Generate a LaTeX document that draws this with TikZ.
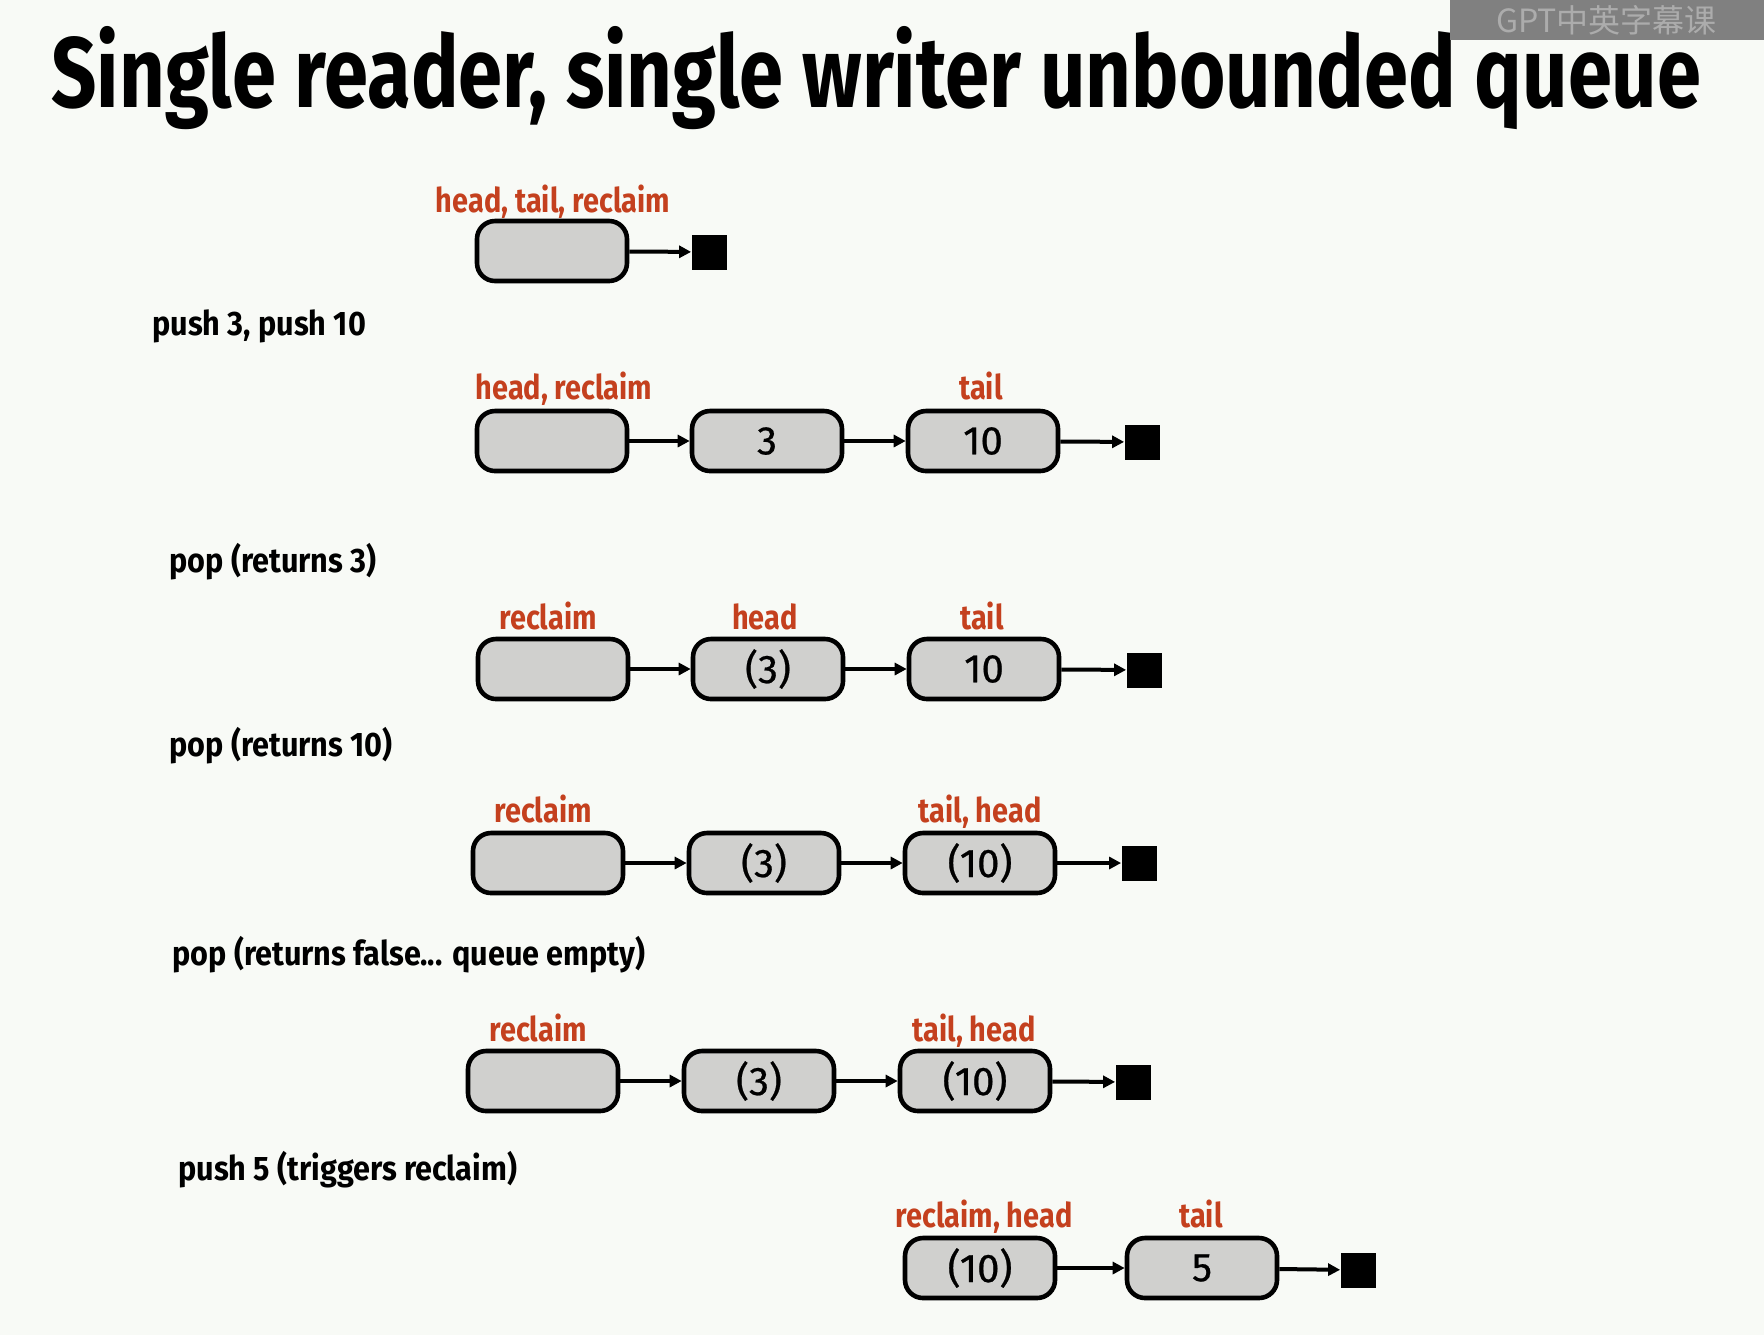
\documentclass[tikz,border=0pt]{standalone}
\usepackage{fontspec}
\usepackage{xcolor}
\usetikzlibrary{arrows.meta}
\setmainfont{Fira Sans}
\newfontfamily\condfont[FakeStretch=0.85]{Fira Sans}
\newfontfamily\opfont[FakeStretch=0.9]{Fira Sans}
\newfontfamily\titlefont[FakeStretch=0.795]{Fira Sans}
\newfontfamily\cellfont[FakeBold=0.6]{Fira Sans}
\newfontfamily\cjkfont{Noto Sans CJK SC}
\definecolor{ptrred}{RGB}{196,64,30}
\definecolor{cellgray}{RGB}{208,208,206}
\definecolor{slidebg}{RGB}{248,250,246}
\definecolor{markgray}{RGB}{128,128,128}
\definecolor{marktext}{RGB}{172,172,172}

\begin{document}
\begin{tikzpicture}[x=0.5pt,y=0.5pt,yscale=-1,xscale=1,
  cell/.style={draw=black,line width=2.3pt,fill=cellgray,rounded corners=9pt,minimum width=75pt,minimum height=30pt,inner sep=0pt,font=\cellfont\fontsize{20}{20}\selectfont},
  nil/.style={fill=black,minimum size=17.5pt,inner sep=0pt},
  link/.style={line width=2pt,-{Triangle[length=6pt,width=6pt]}},
  ptr/.style={anchor=base,text=ptrred,inner sep=0pt,font=\condfont\bfseries\fontsize{17}{17}\selectfont},
  op/.style={anchor=base west,inner sep=0pt,font=\opfont\bfseries\fontsize{17}{17}\selectfont}]
%set diagram size: 1764 x 1335
\path[fill=slidebg,use as bounding box] (0,0) rectangle (1764,1335);

% Title
\node[anchor=base west,inner sep=0pt,font=\titlefont\bfseries\fontsize{50}{50}\selectfont] (title) at (51,107) {Single reader, single writer unbounded queue};
% Watermark
\node[fill=markgray,text=marktext,anchor=north east,minimum width=157pt,minimum height=20pt,inner sep=0pt,font=\cjkfont\fontsize{16}{16}\selectfont] (mark) at (1764,0) {GPT中英字幕课};

%Row 0
\node[cell] (a0) at (552,251) {};
\node[nil] (e0) at (709,252) {};
\node[ptr] (a0p) at (553,212) {head, tail, reclaim};
\draw[link] (a0) -- (e0);

% Text Node
\node[op] (s1) at (152,335) {push 3, push 10};

%Row 1
\node[cell] (a1) at (552,441) {};
\node[cell] (b1) at (767,441) {3};
\node[cell] (c1) at (983,441) {10};
\node[nil] (e1) at (1142,442) {};
\node[ptr] (a1p) at (564,399) {head, reclaim};
\node[ptr] (c1p) at (981,399) {tail};
\draw[link] (a1) -- (b1);
\draw[link] (b1) -- (c1);
\draw[link] (c1) -- (e1);

% Text Node
\node[op] (s2) at (169,572) {pop (returns 3)};

%Row 2
\node[cell] (a2) at (553,669) {};
\node[cell] (b2) at (768,669) {(3)};
\node[cell] (c2) at (984,669) {10};
\node[nil] (e2) at (1144,670) {};
\node[ptr] (a2p) at (548,629) {reclaim};
\node[ptr] (b2p) at (765,629) {head};
\node[ptr] (c2p) at (982,629) {tail};
\draw[link] (a2) -- (b2);
\draw[link] (b2) -- (c2);
\draw[link] (c2) -- (e2);

% Text Node
\node[op] (s3) at (169,756) {pop (returns 10)};

%Row 3
\node[cell] (a3) at (548,863) {};
\node[cell] (b3) at (764,863) {(3)};
\node[cell] (c3) at (980,863) {(10)};
\node[nil] (e3) at (1139,863) {};
\node[ptr] (a3p) at (543,822) {reclaim};
\node[ptr] (c3p) at (980,822) {tail, head};
\draw[link] (a3) -- (b3);
\draw[link] (b3) -- (c3);
\draw[link] (c3) -- (e3);

% Text Node
\node[op] (s4) at (172,965) {pop (returns false... queue empty)};

%Row 4
\node[cell] (a4) at (543,1081) {};
\node[cell] (b4) at (759,1081) {(3)};
\node[cell] (c4) at (975,1081) {(10)};
\node[nil] (e4) at (1133,1082) {};
\node[ptr] (a4p) at (538,1041) {reclaim};
\node[ptr] (c4p) at (974,1041) {tail, head};
\draw[link] (a4) -- (b4);
\draw[link] (b4) -- (c4);
\draw[link] (c4) -- (e4);

% Text Node
\node[op] (s5) at (178,1180) {push 5 (triggers reclaim)};

%Row 5
\node[cell] (a5) at (980,1268) {(10)};
\node[cell] (b5) at (1202,1268) {5};
\node[nil] (e5) at (1358,1270) {};
\node[ptr] (a5p) at (984,1227) {reclaim, head};
\node[ptr] (b5p) at (1201,1227) {tail};
\draw[link] (a5) -- (b5);
\draw[link] (b5) -- (e5);

\end{tikzpicture}
\end{document}
